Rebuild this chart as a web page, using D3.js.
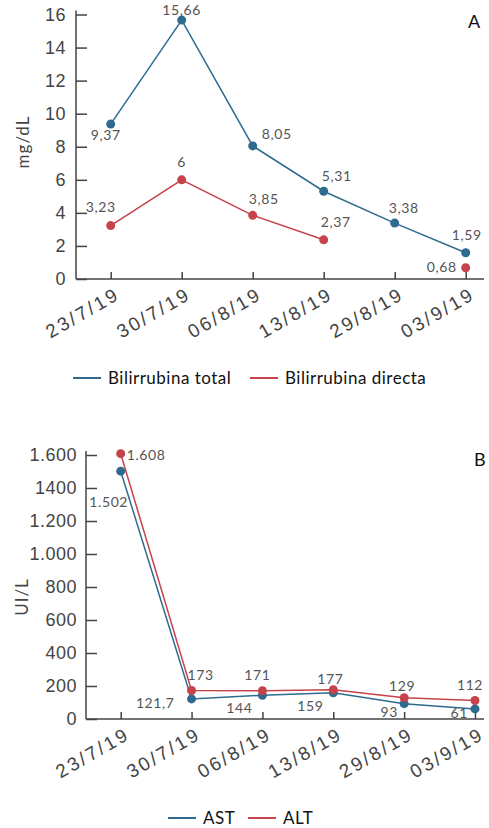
<!DOCTYPE html>
<html>
<head>
<meta charset="utf-8">
<script src="https://cdn.jsdelivr.net/npm/d3@7"></script>
<style>
  body { margin: 0; background: #fff; }
  svg { display: block; font-family: "Lato", "Open Sans", sans-serif; }
</style>
</head>
<body>
<svg id="chart" width="489" height="828"></svg>
<script>
// datos
const fechas = ["23/7/19", "30/7/19", "06/8/19", "13/8/19", "29/8/19", "03/9/19"];
const bilTotal = [9.37, 15.66, 8.05, 5.31, 3.38, 1.59];
const bilDirecta = [3.23, 6, 3.85, 2.37, null, 0.68];
const ast = [1502, 121.7, 144, 159, 93, 61];
const alt = [1608, 173, 171, 177, 129, 112];
const ticksA = [0, 2, 4, 6, 8, 10, 12, 14, 16];
const ticksB = [0, 200, 400, 600, 800, 1000, 1200, 1400, 1600];
const ticksBLabels = ["0", "200", "400", "600", "800", "1.000", "1.200", "1400", "1.600"];

const azul = "#2f6b8f";
const rojo = "#c6434b";
const gris = "#555";

const svg = d3.select("#chart");

const fmtComa = d => String(d).replace(".", ",");
const fmtMiles = d => d3.format(",")(d).replace(/,/g, ".");

// posicion de las etiquetas [dx, dy, anchor]
const posTotal = [[-5, 16, "middle"], [0, -5, "middle"], [9, -7, "start"], [-2, -10, "start"], [9, -10, "middle"], [1, -13, "middle"]];
const posDirecta = [[-10, -14, "middle"], [0, -13, "middle"], [11, -11, "middle"], [12, -13, "middle"], null, [-9, 4, "end"]];
const posAst = [[-12, 36, "middle"], [-17, 9, "end"], [-23, 18, "middle"], [-23, 18, "middle"], [-15, 13, "middle"], [-7, 9, "end"]];
const posAlt = [[6, 6, "start"], [9, -10, "middle"], [-5, -11, "middle"], [-3, -6, "middle"], [-2, -7, "middle"], [-5, -11, "middle"]];

function panel(cfg) {
  const g = svg.append("g");
  const x = d3.scalePoint().domain(fechas).range(cfg.xr);
  const y = d3.scaleLinear().domain(cfg.dom).range(cfg.yr);

  // eje y
  g.append("g")
    .attr("transform", `translate(${cfg.x0},0)`)
    .call(d3.axisLeft(y).tickValues(cfg.ticks).tickSizeInner(-11).tickSizeOuter(0)
      .tickPadding(cfg.pad).tickFormat((d, i) => cfg.tickLabels[i]))
    .call(a => a.select(".domain").attr("d", `M0,${cfg.yr[0]}V${cfg.yr[1] - 4}`))
    .call(a => a.selectAll("line, .domain").attr("stroke", "#444").attr("stroke-width", 1.5))
    .call(a => a.selectAll("text").attr("fill", "#444").style("font-size", "18px").style("letter-spacing", "0.5px"));

  // eje x
  const ax = g.append("g")
    .attr("transform", `translate(0,${cfg.yr[0]})`)
    .call(d3.axisBottom(x).tickSizeInner(-7).tickSizeOuter(0))
    .call(a => a.select(".domain").remove())
    .call(a => a.selectAll("line").attr("stroke", "#444").attr("stroke-width", 1.5));
  ax.append("line").attr("x1", cfg.x0).attr("x2", 484)
    .attr("stroke", "#444").attr("stroke-width", 1.5);
  ax.selectAll(".tick text")
    .attr("fill", "#444").style("font-size", "19px").style("letter-spacing", "2.6px")
    .attr("text-anchor", "end")
    .attr("x", 0).attr("y", 0).attr("dy", 0)
    .attr("transform", "translate(10,19) rotate(-30)");

  // titulo eje y
  g.append("text")
    .attr("transform", `translate(${cfg.tx},${cfg.ty}) rotate(-90)`)
    .attr("text-anchor", "middle").attr("fill", "#444").style("font-size", "17px")
    .style("letter-spacing", "1px")
    .text(cfg.titulo);

  g.append("text").attr("x", cfg.letraX).attr("y", cfg.letraY)
    .attr("fill", "#111").style("font-size", "18px").text(cfg.letra);

  cfg.series.forEach(s => {
    const pts = s.vals.map((v, i) => ({ f: fechas[i], v, i }));
    g.append("path").datum(pts)
      .attr("fill", "none").attr("stroke", s.color).attr("stroke-width", 1.5)
      .attr("d", d3.line().defined(d => d.v != null).x(d => x(d.f)).y(d => y(d.v)));
    const ok = pts.filter(d => d.v != null);
    g.selectAll(null).data(ok).enter().append("circle")
      .attr("cx", d => x(d.f)).attr("cy", d => y(d.v)).attr("r", 4.5).attr("fill", s.color);
    g.selectAll(null).data(ok).enter().append("text")
      .attr("x", d => x(d.f) + s.pos[d.i][0]).attr("y", d => y(d.v) + s.pos[d.i][1])
      .attr("text-anchor", d => s.pos[d.i][2])
      .attr("fill", gris).style("font-size", "14px").style("letter-spacing", "0.6px")
      .text(d => s.fmt(d.v));
  });

  // leyenda
  const lg = g.append("g").attr("transform", `translate(0,${cfg.ly})`);
  cfg.series.forEach((s, k) => {
    lg.append("line").attr("x1", cfg.lx[k]).attr("x2", cfg.lx[k] + 28)
      .attr("y1", -6).attr("y2", -6).attr("stroke", s.color).attr("stroke-width", 2);
    lg.append("text").attr("x", cfg.lx[k] + 35).attr("y", 0)
      .attr("fill", "#111").style("font-size", "17px").style("letter-spacing", "0.5px").text(s.nombre);
  });
}

panel({
  xr: [110.7, 465.7], yr: [279, 14.5], dom: [0, 16], x0: 76, pad: 10,
  ticks: ticksA, tickLabels: ticksA.map(String),
  titulo: "mg/dL", tx: 29, ty: 142, letra: "A", letraX: 468, letraY: 28,
  ly: 384, lx: [73, 250],
  series: [
    { nombre: "Bilirrubina total", vals: bilTotal, color: azul, pos: posTotal, fmt: fmtComa },
    { nombre: "Bilirrubina directa", vals: bilDirecta, color: rojo, pos: posDirecta, fmt: fmtComa }
  ]
});

panel({
  xr: [120.7, 475], yr: [719, 455], dom: [0, 1600], x0: 86, pad: 9,
  ticks: ticksB, tickLabels: ticksBLabels,
  titulo: "UI/L", tx: 28, ty: 597, letra: "B", letraX: 474, letraY: 466,
  ly: 824, lx: [168, 248],
  series: [
    { nombre: "AST", vals: ast, color: azul, pos: posAst, fmt: d => fmtMiles(d).replace(/\.(\d)$/, ",$1") },
    { nombre: "ALT", vals: alt, color: rojo, pos: posAlt, fmt: fmtMiles }
  ]
});
</script>
</body>
</html>
